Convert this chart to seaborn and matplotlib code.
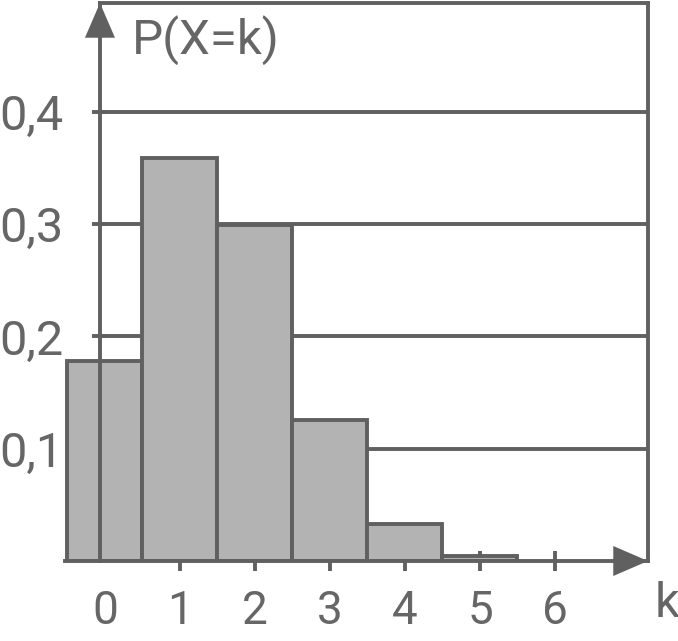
import numpy as np
import pandas as pd
import matplotlib
matplotlib.use("Agg")
import matplotlib.pyplot as plt
import seaborn as sns

# data
k_values = [0, 1, 2, 3, 4, 5]
p_values = [0.178, 0.359, 0.299, 0.126, 0.033, 0.0045]
x_ticks = [0, 1, 2, 3, 4, 5, 6]
x_labels = ["0", "1", "2", "3", "4", "5", "6"]
y_ticks = [0.1, 0.2, 0.3, 0.4]
y_labels = ["0,1", "0,2", "0,3", "0,4"]

LINE = "#606060"
TEXT = "#666666"
BAR = "#b3b3b3"
LW = 2.8

sns.set_theme(style="white")
plt.rcParams["font.family"] = ["Roboto", "DejaVu Sans"]

fig = plt.figure(figsize=(6.78, 6.41), dpi=100)
ax = fig.add_axes([65 / 678, 80 / 641, 583 / 678, 558 / 641])

df = pd.DataFrame({"k": k_values, "p": p_values})
sns.barplot(data=df, x="k", y="p", native_scale=True, width=1, color=BAR,
            saturation=1, edgecolor=LINE, linewidth=LW, ax=ax, zorder=1)

xmin, xmax = -0.533, 7.24
ymax = 0.497
x_yaxis = -0.067
ax.set_xlim(xmin, xmax)
ax.set_ylim(0, ymax)

# horizontal grid lines start at the y axis
ax.hlines(y_ticks, x_yaxis, xmax, color=LINE, lw=LW, zorder=0.5)

# spines
for side in ["top", "right", "bottom", "left"]:
    ax.spines[side].set_color(LINE)
    ax.spines[side].set_linewidth(LW)
ax.spines["left"].set_position(("data", x_yaxis))
ax.spines["top"].set_bounds(x_yaxis, xmax)

ax.set_xticks(x_ticks)
ax.set_xticklabels(x_labels)
ax.set_yticks(y_ticks)
ax.set_yticklabels(y_labels)
ax.tick_params(axis="y", left=True, direction="inout", length=11, width=LW,
               color=LINE, labelsize=35, labelcolor=TEXT, pad=20.5)
ax.tick_params(axis="x", bottom=True, direction="inout", length=14, width=LW,
               color=LINE, labelsize=33, labelcolor=TEXT, pad=13)
ax.xaxis.get_major_ticks()[0].tick1line.set_visible(False)
ax.set_xlabel("")
ax.set_ylabel("")

# arrow heads
head = dict(arrowstyle="-|>,head_length=25,head_width=10.8", color=LINE,
            lw=0, shrinkA=0, shrinkB=0, mutation_scale=1)
ax.annotate("", xy=(x_yaxis, ymax), xytext=(x_yaxis, ymax - 0.06),
            arrowprops=head, annotation_clip=False)
ax.annotate("", xy=(xmax, 0), xytext=(xmax - 0.8, 0),
            arrowprops=head, annotation_clip=False)

ax.text(0.36, 0.452, "P(X=k)", fontsize=35.5, color=TEXT, va="baseline", ha="left")
ax.text(7.33, -0.05, "k", fontsize=35, color=TEXT, va="baseline", ha="left",
        clip_on=False)

fig.savefig("out.png", dpi=100)
